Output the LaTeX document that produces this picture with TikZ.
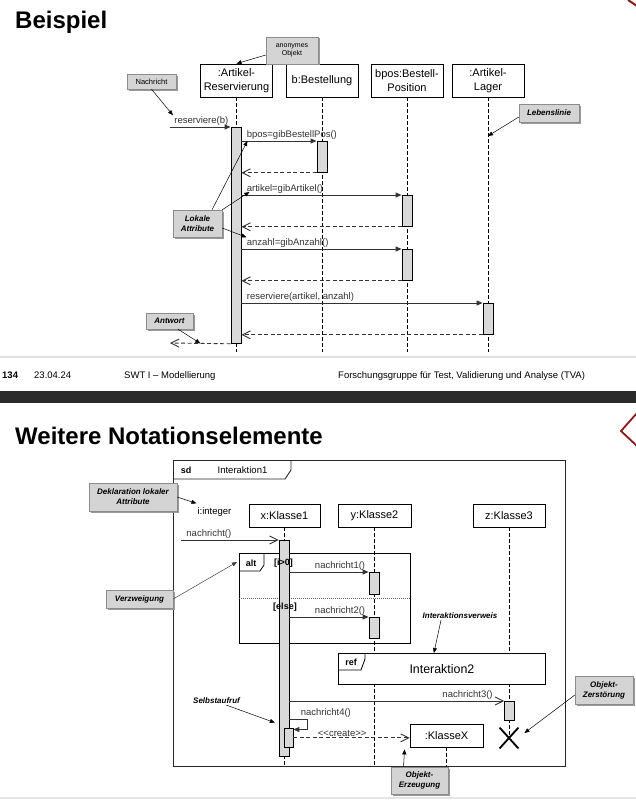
\documentclass[tikz,border=0pt]{standalone}
\usepackage{fontspec}
\setmainfont{Liberation Sans}
\usetikzlibrary{positioning,arrows.meta,shadows,shapes.misc}
\definecolor{logored}{HTML}{8B1A1A}

\begin{document}
\begin{tikzpicture}[x=1pt, y=-1pt,
  obj/.style={draw, line width=0.8pt, align=center, inner sep=0pt,
              font=\fontsize{11}{14}\selectfont, minimum width=72pt, minimum height=33pt},
  act/.style={draw, line width=0.8pt, fill=black!15, inner sep=0pt, anchor=north,
              minimum width=10pt},
  life/.style={dash pattern=on 4pt off 2pt, line width=0.7pt},
  lbl/.style={font=\fontsize{9.5}{11}\selectfont, inner sep=1pt},
  tag/.style={lbl, font=\fontsize{9}{10}\selectfont\bfseries},
  note/.style={draw=black!45, fill=black!17, align=center, inner sep=0pt,
               font=\fontsize{8}{10}\selectfont\bfseries\itshape,
               drop shadow={shadow xshift=1.5pt, shadow yshift=-1.5pt, fill=black!40, opacity=1}},
  notetxt/.style={inner sep=1pt, font=\fontsize{8}{10}\selectfont\bfseries\itshape},
  msg/.style={-{Triangle[length=6pt,width=5pt]}, line width=0.9pt, black!80},
  msgopen/.style={-{Straight Barb[length=8pt,width=8pt]}, line width=0.9pt, black!80},
  ret/.style={msgopen, dash pattern=on 4pt off 2.5pt},
  notearr/.style={-{Triangle[length=5pt,width=4pt]}, line width=0.5pt},
  foot/.style={anchor=base west, inner sep=0pt, font=\fontsize{9.5}{11}\selectfont}
]
\useasboundingbox (0,0) rectangle (636,800);
\fill[white] (0,0) rectangle (636,800);

% first slide
\node[anchor=base west, inner sep=0pt, font=\fontsize{24}{28}\selectfont\bfseries] (title1) at (15,29) {Beispiel};
\draw[logored, line width=2pt] (628,0) -- (637,6);

\node[obj] (oRes) at (236.5,80.5) {:Artikel-\\Reservierung};
\node[obj] (oBest) at (322,80.5) {b:Bestellung};
\node[obj] (oPos) at (407,80.5) {bpos:Bestell-\\Position};
\node[obj] (oLager) at (488,80.5) {:Artikel-\\Lager};

\coordinate (bot1) at (0,352);
\foreach \ob in {oRes,oBest,oPos,oLager}
  \draw[life] (\ob.south) -- (\ob.south |- bot1);

\node[act, minimum height=216pt] (aRes) at (236,127) {};
\node[act, minimum height=31pt] (aBest) at (322,141) {};
\node[act, minimum height=31pt] (aPos1) at (407,195) {};
\node[act, minimum height=31pt] (aPos2) at (407,249) {};
\node[act, minimum height=31pt] (aLager) at (488,303) {};

\coordinate (in1) at (170,127);
\draw[msg] (in1) -- node[lbl, above, xshift=1pt] (lRes) {reserviere(b)} (aRes.north west);
\draw[msg] (aRes.east |- aBest.north) -- node[lbl, pos=0, anchor=south west, xshift=4pt] (lBpos) {bpos=gibBestellPos()} (aBest.north west);
\draw[ret] (aBest.south west) -- (aRes.east |- aBest.south);
\draw[msg] (aRes.east |- aPos1.north) -- node[lbl, pos=0, anchor=south west, xshift=4pt] (lArt) {artikel=gibArtikel()} (aPos1.north west);
\draw[ret] (aPos1.south west) -- (aRes.east |- aPos1.south);
\draw[msg] (aRes.east |- aPos2.north) -- node[lbl, pos=0, anchor=south west, xshift=4pt] (lAnz) {anzahl=gibAnzahl()} (aPos2.north west);
\draw[ret] (aPos2.south west) -- (aRes.east |- aPos2.south);
\draw[msg] (aRes.east |- aLager.north) -- node[lbl, pos=0, anchor=south west, xshift=4pt] (lResv) {reserviere(artikel, anzahl)} (aLager.north west);
\draw[ret] (aLager.south west) -- (aRes.east |- aLager.south);
\coordinate (out1) at (170,343);
\draw[ret] (aRes.south west) -- coordinate[pos=0.5] (mAntw) (out1);

\node[note, font=\fontsize{7}{8.5}\selectfont, minimum width=52pt, minimum height=27pt] (nAnon) at (292,50.5) {anonymes\\Objekt};
\node[note, font=\fontsize{7.5}{9}\selectfont, minimum width=49pt, minimum height=15pt] (nNach) at (151.5,81.5) {Nachricht};
\node[note, minimum width=60pt, minimum height=18pt] (nLeben) at (549,113) {Lebenslinie};
\node[note, minimum width=49pt, minimum height=27pt] (nLokal) at (197.5,223.5) {Lokale\\Attribute};
\node[note, minimum width=47pt, minimum height=16pt] (nAntw) at (169.5,321) {Antwort};

\draw[notearr] ([yshift=-4.5pt]nAnon.west) -- (oRes.north);
\draw[notearr] (nNach.south) -- (lRes.north west);
\draw[notearr] ([yshift=-4pt]nLeben.west) -- (oLager.south |- 0,136);
\draw[notearr] ([xshift=14.5pt]nLokal.north) -- ([xshift=2pt]lBpos.south west);
\draw[notearr] (nLokal.north east) -- ([xshift=4pt,yshift=3pt]lArt.south west);
\draw[notearr] ([yshift=-4.5pt]nLokal.east) -- ([xshift=1pt]lAnz.north west);
\draw[notearr] ([xshift=8.5pt]nAntw.south) -- (mAntw);

% footer
\draw[black!12, line width=2pt] (0,357) -- (636,357);
\node[foot, font=\fontsize{9.5}{11}\selectfont\bfseries] (fPage) at (2,378) {134};
\node[foot] (fDate) at (34,378) {23.04.24};
\node[foot] (fCourse) at (124,378) {SWT I – Modellierung};
\node[foot] (fGroup) at (338,378) {Forschungsgruppe für Test, Validierung und Analyse (TVA)};
\fill[black!83] (0,391) rectangle (636,403);

% second slide
\node[anchor=base west, inner sep=0pt, font=\fontsize{24}{28}\selectfont\bfseries] (title2) at (15,444) {Weitere Notationselemente};
\draw[logored, line width=1.8pt] (637,413) -- (621,431) -- (637,446);

\node[draw, line width=0.9pt, black!85, anchor=north west, minimum width=392pt, minimum height=306pt, inner sep=0pt] (frame) at (173,460) {};
\draw[line width=0.9pt, black!85] (frame.north west |- 0,479) -- (285,479) -- (291,470) -- (291,460);
\node[tag] (sdTag) at (186,470) {sd};
\node[lbl] (sdName) at (242.5,470) {Interaktion1};

\node[obj, minimum width=71pt, minimum height=23pt] (oX1) at (284.5,515.5) {x:Klasse1};
\node[obj, minimum width=73pt, minimum height=23pt] (oY2) at (374.5,515.5) {y:Klasse2};
\node[obj, minimum width=72pt, minimum height=23pt] (oZ3) at (509,515.5) {z:Klasse3};
\node[lbl] (lInt) at (214.5,512) {i:integer};

\node[cross out, draw, line width=1.8pt, minimum width=17pt, minimum height=19pt, inner sep=0pt] (xZ) at (509,738) {};
\node[obj, minimum width=73pt, minimum height=23pt] (oKX) at (446.5,735.5) {:KlasseX};

\draw[life] (oX1.south) -- (oX1.south |- frame.south);
\draw[life] (oY2.south) -- (oY2.south |- frame.south);
\draw[life] (oZ3.south) -- (xZ.center);
\draw[life] (oKX.south) -- (oKX.south |- frame.south);

% alt fragment
\node[draw, line width=0.8pt, anchor=north west, minimum width=171pt, minimum height=90pt, inner sep=0pt] (fAlt) at (239,553) {};
\draw[line width=0.8pt] (fAlt.north west |- 0,571) -- (260,571) -- (264,565) -- (264,553);
\node[tag] (altTag) at (251,563) {alt};
\draw[black!60, dash pattern=on 1pt off 1pt, line width=0.6pt] (fAlt.west |- 0,598) -- (fAlt.east |- 0,598);

\node[act, minimum height=216pt] (aX1) at (284,540) {};
\node[act, minimum height=22pt] (aY1) at (374,572) {};
\node[act, minimum height=21pt] (aY2) at (374,617) {};
\node[act, minimum height=19pt] (aZ3) at (509.5,701) {};
\node[act, minimum width=9pt, minimum height=19pt] (aX2) at (288.5,728) {};

\node[tag] (gIf) at (283.5,563) {[i>0]};
\node[tag] (gElse) at (285,607) {[else]};

% ref fragment
\node[draw, line width=0.8pt, fill=white, anchor=north west, minimum width=207pt, minimum height=31pt, inner sep=0pt, font=\fontsize{12.4}{14}\selectfont] (fRef) at (338,653) {Interaktion2};
\draw[line width=0.8pt] (fRef.north west |- 0,670) -- (361,670) -- (365,659) -- (365,653);
\node[tag] (refTag) at (351,662) {ref};

\coordinate (in2) at (181,540);
\draw[msgopen] (in2) -- node[lbl, pos=0, anchor=south west, xshift=4pt] (lNach) {nachricht()} (aX1.north west);
\draw[msg] (aX1.east |- aY1.north) -- node[lbl, pos=1, anchor=south east, xshift=-2pt] (lN1) {nachricht1()} (aY1.north west);
\draw[msg] (aX1.east |- aY2.north) -- node[lbl, pos=1, anchor=south east, xshift=-2pt] (lN2) {nachricht2()} (aY2.north west);
\draw[msgopen] (aX1.east |- aZ3.north) -- node[lbl, pos=1, anchor=south east, xshift=-10pt] (lN3) {nachricht3()} (aZ3.north west);
\draw[msg] (aX1.east |- 0,719) -- node[lbl, pos=0.55, anchor=south west] (lN4) {nachricht4()} ++(18,0) |- ([yshift=-1.5pt]aX2.north east);
\draw[ret] (aX2.east) -- node[lbl, pos=0.42, above] (lCreate) {<\kern0pt<create>\kern0pt>} (oKX.west |- aX2.east);

% annotations
\node[note, minimum width=88pt, minimum height=28pt] (nDekl) at (133,497) {Deklaration lokaler\\Attribute};
\draw[notearr] (nDekl.east) -- ([yshift=3pt]lInt.north west);
\node[note, minimum width=67pt, minimum height=18pt] (nVerz) at (139.5,599) {Verzweigung};
\draw[notearr, black!75] (nVerz.east) -- ([xshift=-2pt,yshift=-9pt]fAlt.north west);
\node[notetxt] (lIV) at (460,616) {Interaktionsverweis};
\draw[notearr] ([xshift=-19pt]lIV.south) -- ([xshift=-8pt]fRef.north);
\node[notetxt] (lSelf) at (216.5,701) {Selbstaufruf};
\draw[notearr, shorten >=4pt] ([xshift=10pt]lSelf.south) -- (aX1.west |- 0,724);
\node[note, minimum width=58pt, minimum height=28pt] (nZer) at (604,690) {Objekt-\\Zerstörung};
\draw[notearr] ([yshift=-5pt]nZer.west) -- ([xshift=6pt,yshift=5pt]xZ.east);
\node[note, minimum width=57pt, minimum height=27pt] (nErz) at (419.5,780.5) {Objekt-\\Erzeugung};
\draw[notearr] ([xshift=-16pt]nErz.north) -- ([xshift=-5pt,yshift=-2pt]oKX.south west);

\draw[black!10, line width=2pt] (0,798) -- (636,798);
\end{tikzpicture}
\end{document}
